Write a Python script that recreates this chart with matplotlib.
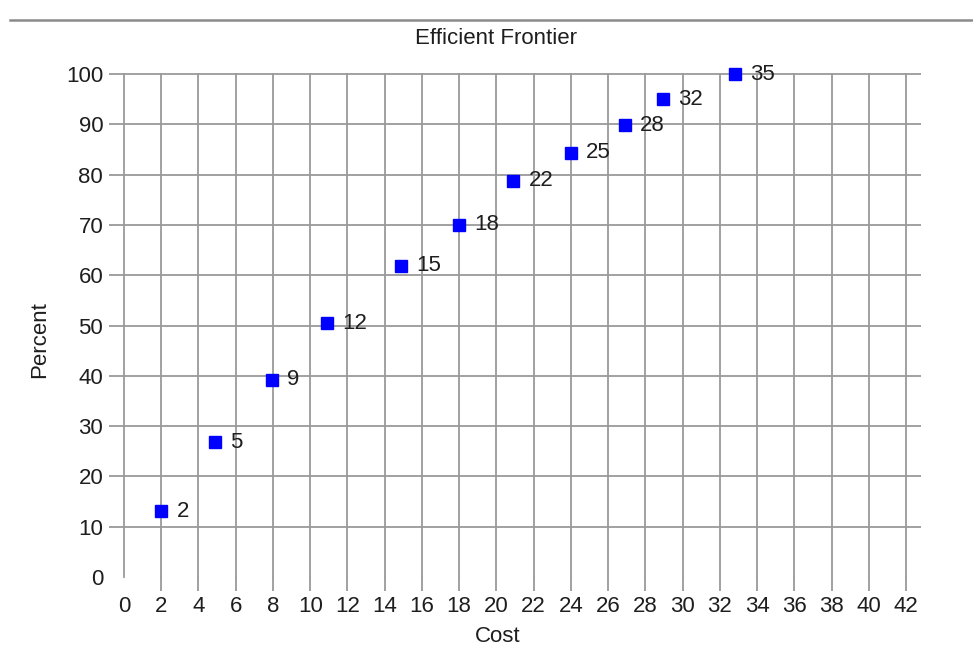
import matplotlib.pyplot as plt
from matplotlib.lines import Line2D

# efficient frontier points
cost = [2.0, 4.9, 7.93, 10.9, 14.9, 18.0, 20.9, 24.0, 26.9, 28.95, 32.8]
percent = [13.1, 26.8, 39.2, 50.4, 61.9, 70.0, 78.8, 84.3, 89.8, 95.0, 100.0]
point_labels = ["2", "5", "9", "12", "15", "18", "22", "25", "28", "32", "35"]

x_ticks = list(range(0, 43, 2))
y_ticks = list(range(0, 101, 10))

plt.rcParams['font.family'] = ['Liberation Sans', 'DejaVu Sans']
grid_color = '#9a9a9a'
text_color = '#1e1e1e'
fs = 16

fig = plt.figure(figsize=(9.73, 6.6), dpi=100)
W, H = 973, 660
ax = fig.add_axes([124 / W, (H - 577) / H, (906 - 124) / W, (577 - 74) / H])

ax.set_xlim(0, 42)
ax.set_ylim(0, 100)
ax.set_xticks(x_ticks)
ax.set_yticks(y_ticks)
for s in ax.spines.values():
    s.set_visible(False)

ax.grid(True, color=grid_color, linewidth=1.3)
ax.set_axisbelow(True)
ax.tick_params(axis='both', colors=grid_color, width=1.3, labelsize=fs,
               labelcolor=text_color)
ax.tick_params(axis='x', length=10, pad=4)
ax.tick_params(axis='y', length=11, pad=4, right=True)

# grid lines on the edges should not be cut in half
for gl in ax.get_xgridlines() + ax.get_ygridlines():
    gl.set_clip_on(False)

# no line or tick at y=0, no tick under x=0
ax.yaxis.get_gridlines()[0].set_visible(False)
ax.yaxis.get_major_ticks()[0].tick1line.set_visible(False)
ax.yaxis.get_major_ticks()[0].tick2line.set_visible(False)
ax.xaxis.get_major_ticks()[0].tick1line.set_visible(False)

ax.plot(cost, percent, linestyle='none', marker='s', markersize=9,
        color='#0000ff', clip_on=False, zorder=3)
for x, y, lab in zip(cost, percent, point_labels):
    ax.annotate(lab, (x, y), xytext=(11, 0), textcoords='offset points',
                va='center', ha='left', fontsize=fs, color=text_color)

fig.text(496 / W, 1 - 38 / H, "Efficient Frontier", ha='center', va='center',
         fontsize=fs, color=text_color)
fig.text(498 / W, 1 - 637 / H, "Cost", ha='center', va='center',
         fontsize=fs, color=text_color)
fig.text(40 / W, 1 - 340 / H, "Percent", ha='center', va='center',
         rotation=90, fontsize=fs, color=text_color)

# border line across the top of the screenshot
fig.add_artist(Line2D([10 / W, 1], [1 - 20 / H, 1 - 20 / H],
                      transform=fig.transFigure, color='#8a8a8a', linewidth=1.8))

fig.savefig("out.png", dpi=100)
